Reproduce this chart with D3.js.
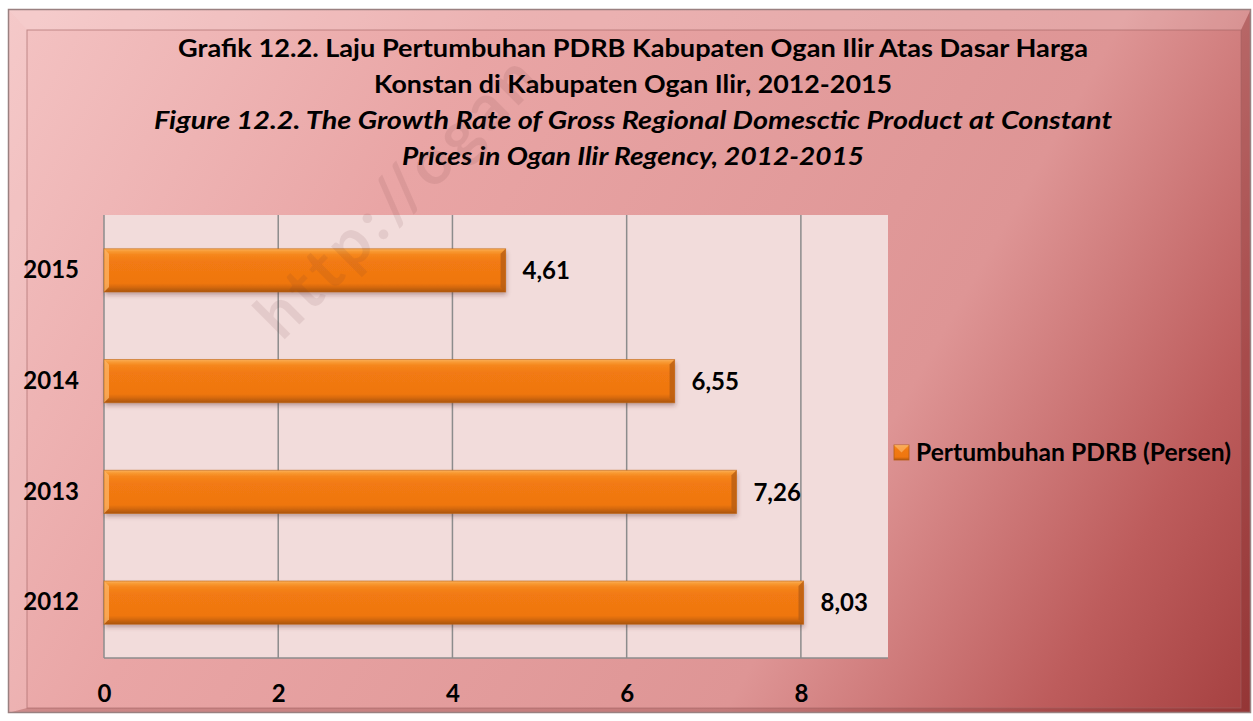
<!DOCTYPE html>
<html>
<head>
<meta charset="utf-8">
<script src="https://cdn.jsdelivr.net/npm/d3@7"></script>
<style>
  html, body { margin: 0; padding: 0; background: #ffffff; }
  svg { display: block; }
  text { font-family: Lato, "Open Sans", sans-serif; }
</style>
</head>
<body>
<svg id="chart" width="1253" height="721"></svg>
<script>
// ---- Data ----
const years = ["2015", "2014", "2013", "2012"];
const growth = [4.61, 6.55, 7.26, 8.03];
const xTicks = [0, 2, 4, 6, 8];
const xDomain = [0, 9];
const seriesName = "Pertumbuhan PDRB (Persen)";
const titleLines = [
  "Grafik 12.2. Laju Pertumbuhan PDRB Kabupaten Ogan Ilir Atas Dasar Harga",
  "Konstan di Kabupaten Ogan Ilir, 2012-2015",
  "Figure 12.2. The Growth  Rate of Gross Regional Domesctic Product at Constant",
  "Prices in Ogan Ilir Regency, 2012-2015"
];
const watermark = "http://ogan";

// ---- Setup ----
const svg = d3.select("#chart");
const W = 1253, H = 721;
const defs = svg.append("defs");

const bg = defs.append("linearGradient").attr("id", "bgGrad")
  .attr("gradientUnits", "userSpaceOnUse")
  .attr("x1", 0).attr("y1", 0).attr("x2", W).attr("y2", H);
[[0, "#f4c4c4"], [0.3, "#e9a5a5"], [0.68, "#de9595"], [0.87, "#bd5c5c"], [1, "#a43f3f"]]
  .forEach(([o, c]) => bg.append("stop").attr("offset", o).attr("stop-color", c));

const barGrad = defs.append("linearGradient").attr("id", "barGrad")
  .attr("x1", 0).attr("y1", 0).attr("x2", 0).attr("y2", 1);
[[0, "#fbb25e"], [0.06, "#f89a33"], [0.14, "#f5861c"], [0.3, "#f27a12"], [0.8, "#ef7610"], [0.88, "#d86a0e"], [1, "#a9540f"]]
  .forEach(([o, c]) => barGrad.append("stop").attr("offset", o).attr("stop-color", c));

const shadow = defs.append("filter").attr("id", "shadow")
  .attr("x", "-5%").attr("y", "-20%").attr("width", "110%").attr("height", "160%");
shadow.append("feDropShadow").attr("dx", 1).attr("dy", 3).attr("stdDeviation", 2)
  .attr("flood-color", "#5a2a2a").attr("flood-opacity", 0.35);

// ---- Frame with bevel ----
const ox0 = 8, oy0 = 9, ox1 = 1251, oy1 = 713;
const ix0 = 27, iy0 = 30, ix1 = 1241, iy1 = 708;
svg.append("rect").attr("x", ox0).attr("y", oy0).attr("width", ox1 - ox0).attr("height", oy1 - oy0)
  .attr("fill", "url(#bgGrad)");
svg.append("polygon").attr("points", `${ox0},${oy0} ${ox1},${oy0} ${ix1},${iy0} ${ix0},${iy0}`)
  .attr("fill", "#ffffff").attr("opacity", 0.16);
svg.append("polygon").attr("points", `${ox0},${oy0} ${ix0},${iy0} ${ix0},${iy1} ${ox0},${oy1}`)
  .attr("fill", "#ffffff").attr("opacity", 0.1);
svg.append("polygon").attr("points", `${ox1},${oy0} ${ox1},${oy1} ${ix1},${iy1} ${ix1},${iy0}`)
  .attr("fill", "#5a1010").attr("opacity", 0.22);
svg.append("polygon").attr("points", `${ox0},${oy1} ${ix0},${iy1} ${ix1},${iy1} ${ox1},${oy1}`)
  .attr("fill", "#5a1010").attr("opacity", 0.2);
svg.append("rect").attr("x", ox0 + 0.5).attr("y", oy0 + 0.5).attr("width", ox1 - ox0 - 1).attr("height", oy1 - oy0 - 1)
  .attr("fill", "none").attr("stroke", "#9a8080").attr("stroke-width", 1.5);
svg.append("rect").attr("x", ix0).attr("y", iy0).attr("width", ix1 - ix0).attr("height", iy1 - iy0)
  .attr("fill", "none").attr("stroke", "#a06060").attr("stroke-opacity", 0.6).attr("stroke-width", 1);

// ---- Title ----
const titleBase = [57, 93, 129, 165];
const titleLen = [910, 518, 958, 462];
svg.append("g").selectAll("text").data(titleLines).join("text")
  .attr("x", 633).attr("y", (d, i) => titleBase[i])
  .attr("text-anchor", "middle")
  .attr("font-size", 24).attr("font-weight", "bold")
  .attr("font-style", (d, i) => i >= 2 ? "italic" : "normal")
  .attr("fill", "#000")
  .attr("textLength", (d, i) => titleLen[i])
  .attr("lengthAdjust", "spacingAndGlyphs")
  .text(d => d);

// ---- Scales ----
const plot = { left: 104, right: 888, top: 215, bottom: 658 };
const x = d3.scaleLinear().domain(xDomain).range([plot.left, plot.right]);
const y = d3.scaleBand().domain(years).range([plot.top, plot.bottom])
  .paddingInner(0.61).paddingOuter(0.305);

svg.append("rect").attr("x", plot.left).attr("y", plot.top)
  .attr("width", plot.right - plot.left).attr("height", plot.bottom - plot.top)
  .attr("fill", "#f2dcdb");

svg.append("g").selectAll("line").data(xTicks).join("line")
  .attr("x1", d => x(d)).attr("x2", d => x(d))
  .attr("y1", plot.top).attr("y2", plot.bottom)
  .attr("stroke", "#8c8c8c").attr("stroke-width", 1.5);
svg.append("line").attr("x1", plot.left).attr("x2", plot.right)
  .attr("y1", plot.bottom).attr("y2", plot.bottom)
  .attr("stroke", "#8c8c8c").attr("stroke-width", 1.5);

// ---- Bars ----
const data = years.map((yr, i) => ({ year: yr, value: growth[i] }));
const bars = svg.append("g");
const bv = 5;
const barG = bars.selectAll("g").data(data).join("g");
barG.append("rect")
  .attr("x", x(0)).attr("y", d => y(d.year))
  .attr("width", d => x(d.value) - x(0)).attr("height", y.bandwidth())
  .attr("fill", "url(#barGrad)").attr("filter", "url(#shadow)");
barG.append("polygon").attr("points", d => {
  const x0 = x(0), y0 = y(d.year), y1 = y0 + y.bandwidth();
  return `${x0},${y0} ${x0 + bv},${y0 + bv} ${x0 + bv},${y1 - bv} ${x0},${y1}`;
}).attr("fill", "#fcb56a").attr("opacity", 0.75);
barG.append("polygon").attr("points", d => {
  const xe = x(d.value), y0 = y(d.year), y1 = y0 + y.bandwidth();
  return `${xe},${y0} ${xe - bv},${y0 + bv} ${xe - bv},${y1 - bv} ${xe},${y1}`;
}).attr("fill", "#b85e14").attr("opacity", 0.8);
barG.append("rect")
  .attr("x", x(0)).attr("y", d => y(d.year))
  .attr("width", d => x(d.value) - x(0)).attr("height", y.bandwidth())
  .attr("fill", "none").attr("stroke", "#c0600c").attr("stroke-opacity", 0.6).attr("stroke-width", 1);

const locale = d3.formatLocale({ decimal: ",", thousands: ".", grouping: [3], currency: ["", ""] });
const fmt = locale.format(".2f");
bars.selectAll("text.val").data(data).join("text").attr("class", "val")
  .attr("x", d => x(d.value) + 17)
  .attr("y", d => y(d.year) + y.bandwidth() / 2)
  .attr("dy", "0.36em")
  .attr("font-size", 24).attr("font-weight", "bold").attr("fill", "#000")
  .text(d => fmt(d.value));

// ---- Axes ----
const xAxis = svg.append("g").attr("transform", `translate(0, 685)`)
  .call(d3.axisBottom(x).tickValues(xTicks).tickSize(0).tickPadding(0).tickFormat(d3.format("d")));
xAxis.select(".domain").remove();
xAxis.selectAll("text").attr("font-size", 24).attr("font-weight", "bold")
  .attr("fill", "#000").attr("font-family", "Lato, sans-serif");

const yAxis = svg.append("g").attr("transform", `translate(79, 0)`)
  .call(d3.axisLeft(y).tickSize(0).tickPadding(0));
yAxis.select(".domain").remove();
yAxis.selectAll("text").attr("font-size", 24).attr("font-weight", "bold")
  .attr("fill", "#000").attr("font-family", "Lato, sans-serif");

// ---- Legend ----
const lg = svg.append("g").attr("transform", "translate(894, 445)");
lg.append("rect").attr("width", 15).attr("height", 15).attr("fill", "url(#barGrad)")
  .attr("stroke", "#b85e14").attr("stroke-width", 0.8);
lg.append("polygon").attr("points", "0,0 15,0 7.5,7.5").attr("fill", "#fcb56a").attr("opacity", 0.7);
lg.append("text").attr("x", 22).attr("y", 7.5).attr("dy", "0.36em")
  .attr("font-size", 24).attr("font-weight", "bold").attr("fill", "#000")
  .attr("textLength", 315).attr("lengthAdjust", "spacingAndGlyphs")
  .text(seriesName);

// ---- Watermark ----
svg.append("text")
  .attr("transform", "translate(282, 342) rotate(-45)")
  .attr("font-size", 64).attr("font-weight", "bold")
  .attr("letter-spacing", 5)
  .attr("fill", "#6a3a3a").attr("opacity", 0.1)
  .text(watermark);
</script>
</body>
</html>
